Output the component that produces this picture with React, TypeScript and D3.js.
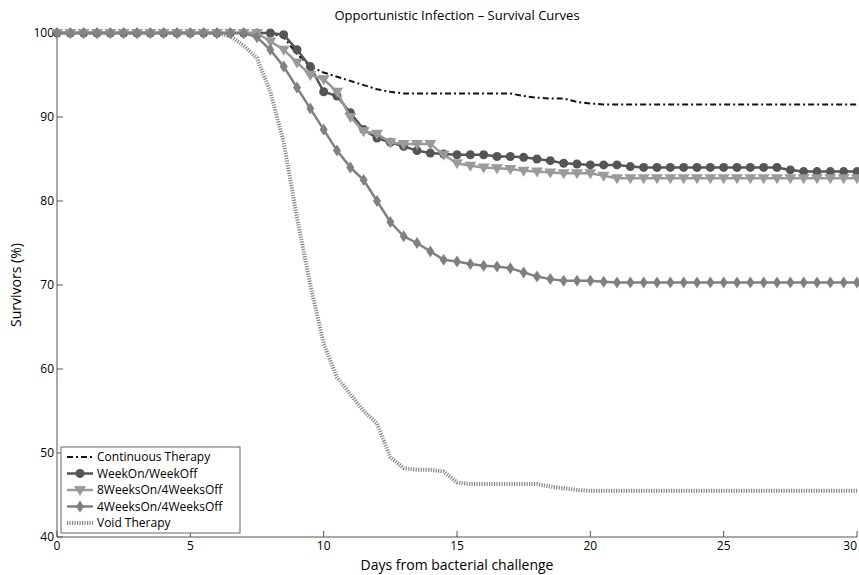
import React from "react";
import * as d3 from "d3";

// days 0..30 step 0.5
const days = d3.range(0, 30.001, 0.5);

const continuous = [
  100, 100, 100, 100, 100, 100, 100, 100, 100, 100, 100, 100,
  100, 100, 100, 100, 100, 99.5, 97.5, 96, 95.3, 94.8, 94.3, 93.8, 93.3, 93,
  92.8, 92.8, 92.8, 92.8, 92.8, 92.8, 92.8, 92.8, 92.8, 92.5, 92.3, 92.2, 92.2, 91.8, 91.6,
  91.5, 91.5, 91.5, 91.5, 91.5, 91.5, 91.5, 91.5, 91.5, 91.5,
  91.5, 91.5, 91.5, 91.5, 91.5, 91.5, 91.5, 91.5, 91.5, 91.5,
];
const weekOn = [
  100, 100, 100, 100, 100, 100, 100, 100, 100, 100, 100, 100,
  100, 100, 100, 100, 100, 99.8, 98, 96, 93, 92.5, 90.5, 88.5, 87.5, 87,
  86.5, 86, 85.7, 85.6, 85.5, 85.5, 85.5, 85.3, 85.3, 85.2, 85, 84.8, 84.5, 84.4, 84.3,
  84.3, 84.3, 84.1, 84, 84, 84, 84, 84, 84, 84,
  84, 84, 84, 84, 83.7, 83.5, 83.5, 83.5, 83.5, 83.5,
];
const eightWeeks = [
  100, 100, 100, 100, 100, 100, 100, 100, 100, 100, 100, 100,
  100, 100, 100, 100, 99, 98, 96.5, 95, 94.5, 93, 90, 88.3, 88, 87,
  86.8, 86.8, 86.8, 85.5, 84.5, 84.2, 84, 83.9, 83.8, 83.6, 83.5, 83.4, 83.3, 83.3, 83.3,
  83, 82.7, 82.7, 82.7, 82.7, 82.7, 82.7, 82.7, 82.7, 82.7,
  82.7, 82.7, 82.7, 82.7, 82.7, 82.7, 82.7, 82.7, 82.7, 82.7,
];
const fourWeeks = [
  100, 100, 100, 100, 100, 100, 100, 100, 100, 100, 100, 100,
  100, 100, 100, 99.5, 98, 96, 93.5, 91, 88.5, 86, 84, 82.5, 80, 77.5,
  75.8, 75, 74, 73, 72.8, 72.5, 72.3, 72.2, 72, 71.5, 71, 70.7, 70.5, 70.5, 70.5,
  70.4, 70.3, 70.3, 70.3, 70.3, 70.3, 70.3, 70.3, 70.3, 70.3,
  70.3, 70.3, 70.3, 70.3, 70.3, 70.3, 70.3, 70.3, 70.3, 70.3,
];
const voidTherapy = [
  100, 100, 100, 100, 100, 100, 100, 100, 100, 100, 100, 100,
  100, 99.6, 98.5, 97, 93, 87, 78, 70, 63, 59, 57, 55, 53.5, 49.5,
  48.2, 48, 48, 47.8, 46.5, 46.3, 46.3, 46.3, 46.3, 46.3, 46.3, 46, 45.8, 45.6, 45.5,
  45.5, 45.5, 45.5, 45.5, 45.5, 45.5, 45.5, 45.5, 45.5, 45.5,
  45.5, 45.5, 45.5, 45.5, 45.5, 45.5, 45.5, 45.5, 45.5, 45.5,
];
const xTicks = [0, 5, 10, 15, 20, 25, 30];
const yTicks = [40, 50, 60, 70, 80, 90, 100];

const series = [
  { name: "Continuous Therapy", values: continuous, color: "#111", width: 2, dash: "6,3,2,3", marker: "none" },
  { name: "WeekOn/WeekOff", values: weekOn, color: "#555", width: 2.5, dash: "", marker: "circle" },
  { name: "8WeeksOn/4WeeksOff", values: eightWeeks, color: "#9a9a9a", width: 2.5, dash: "", marker: "triangle" },
  { name: "4WeeksOn/4WeeksOff", values: fourWeeks, color: "#808080", width: 2.5, dash: "", marker: "diamond" },
  { name: "Void Therapy", values: voidTherapy, color: "#888", width: 4, dash: "1.2,1.3", marker: "none" },
];

function Marker({ type, x, y, color }: { type: string; x: number; y: number; color: string }) {
  if (type === "circle") return <circle cx={x} cy={y} r={4.5} fill={color} />;
  if (type === "triangle")
    return <path d={`M${x - 6},${y - 4}L${x + 6},${y - 4}L${x},${y + 6}Z`} fill={color} />;
  if (type === "diamond")
    return <path d={`M${x},${y - 6}L${x + 4},${y}L${x},${y + 6}L${x - 4},${y}Z`} fill={color} />;
  return null;
}

export default function App() {
  const W = 859, H = 575;
  const x = d3.scaleLinear().domain([0, 30]).range([57, 857]);
  const y = d3.scaleLinear().domain([40, 100]).range([537, 33]);
  const line = d3.line<number>().x((_, i) => x(days[i])).y((d) => y(d));
  const font = "'Open Sans', 'Liberation Sans', sans-serif";

  return (
    <svg width={W} height={H} style={{ position: "absolute", left: 0, top: 0, background: "#fff" }} fontFamily={font}>
      <text x={457} y={20} textAnchor="middle" fontSize={13}>Opportunistic Infection – Survival Curves</text>
      {/* axes */}
      <line x1={57} x2={57} y1={33} y2={537} stroke="#555" />
      <line x1={57} x2={857} y1={537} y2={537} stroke="#555" />
      {yTicks.map((t) => (
        <g key={t}>
          <line x1={57} x2={63} y1={y(t)} y2={y(t)} stroke="#555" />
          <text x={54} y={y(t) + 4} textAnchor="end" fontSize={12}>{t}</text>
        </g>
      ))}
      {xTicks.map((t) => (
        <g key={t}>
          <line x1={x(t)} x2={x(t)} y1={537} y2={531} stroke="#555" />
          <text x={x(t)} y={550} textAnchor={t === 30 ? "end" : "middle"} fontSize={12}>{t}</text>
        </g>
      ))}
      <text x={457} y={570} textAnchor="middle" fontSize={14}>Days from bacterial challenge</text>
      <text transform="translate(21,285) rotate(-90)" textAnchor="middle" fontSize={14}>Survivors (%)</text>
      {/* curves */}
      {series.map((s) => (
        <g key={s.name}>
          <path d={line(s.values) || ""} fill="none" stroke={s.color} strokeWidth={s.width} strokeDasharray={s.dash} />
          {s.values.map((v, i) => (
            <Marker key={i} type={s.marker} x={x(days[i])} y={y(v)} color={s.color} />
          ))}
        </g>
      ))}
      {/* legend */}
      <g transform="translate(61,447)">
        <rect width={179} height={86} fill="#fff" stroke="#666" />
        {series.map((s, i) => {
          const ly = 10 + i * 16.5;
          return (
            <g key={s.name}>
              <line x1={6} x2={32} y1={ly} y2={ly} stroke={s.color} strokeWidth={s.width} strokeDasharray={s.dash} />
              <Marker type={s.marker} x={19} y={ly} color={s.color} />
              <text x={36} y={ly + 4} fontSize={12}>{s.name}</text>
            </g>
          );
        })}
      </g>
    </svg>
  );
}
